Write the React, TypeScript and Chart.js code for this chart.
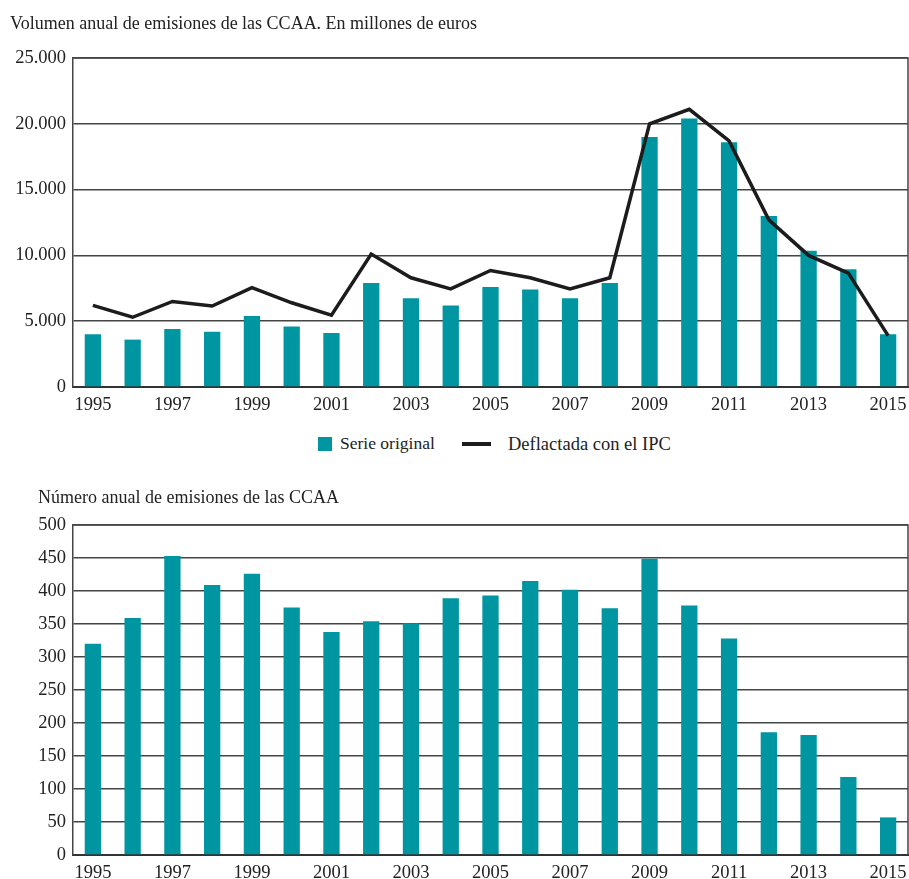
import React, { useEffect, useRef } from "react";
import { Chart, registerables } from "chart.js";

Chart.register(...registerables);

const years = [
  "1995", "1996", "1997", "1998", "1999", "2000", "2001", "2002", "2003", "2004",
  "2005", "2006", "2007", "2008", "2009", "2010", "2011", "2012", "2013", "2014", "2015",
];

// Volumen anual (millones de euros)
const serieOriginal = [
  4000, 3600, 4400, 4200, 5400, 4600, 4100, 7900, 6750, 6200,
  7600, 7400, 6750, 7900, 19000, 20400, 18600, 13000, 10350, 8950, 4000,
];
const deflactadaIPC = [
  6200, 5300, 6500, 6150, 7550, 6400, 5450, 10100, 8300, 7450,
  8850, 8300, 7450, 8300, 20000, 21100, 18700, 12700, 10000, 8650, 3900,
];

// Número anual de emisiones
const numeroEmisiones = [
  320, 359, 453, 409, 426, 375, 338, 354, 351, 389,
  393, 415, 402, 374, 449, 378, 328, 186, 182, 118, 57,
];

const topTitle = "Volumen anual de emisiones de las CCAA. En millones de euros";
const bottomTitle = "Número anual de emisiones de las CCAA";
const legendBar = "Serie original";
const legendLine = "Deflactada con el IPC";

const TEAL = "#0096A1";
const FONT = "'Liberation Serif', 'DejaVu Serif', serif";
const GRID = "#454545";

const fmt = (v: number) => {
  const s = Math.round(v).toString();
  return s.replace(/\B(?=(\d{3})+(?!\d))/g, ".");
};

const borderPlugin = {
  id: "plotBorder",
  afterDatasetsDraw(chart: any) {
    const { ctx, chartArea } = chart;
    ctx.save();
    ctx.strokeStyle = GRID;
    ctx.lineWidth = 1.5;
    ctx.beginPath();
    ctx.moveTo(chartArea.left, chartArea.top);
    ctx.lineTo(chartArea.right, chartArea.top);
    ctx.lineTo(chartArea.right, chartArea.bottom);
    ctx.stroke();
    ctx.restore();
  },
};

function makeScales(max: number, step: number, yWidth: number, xHeight: number, isMoney: boolean) {
  return {
    x: {
      grid: { display: false, drawTicks: false },
      border: { display: true, color: "#333", width: 2 },
      ticks: {
        autoSkip: false,
        maxRotation: 0,
        minRotation: 0,
        padding: 7,
        color: "#222",
        font: { family: FONT, size: 18.5 },
        callback: (_v: any, i: number) => (i % 2 === 0 ? years[i] : ""),
      },
      afterFit: (s: any) => {
        s.height = xHeight;
        s.paddingLeft = 0;
        s.paddingRight = 0;
      },
    },
    y: {
      min: 0,
      max,
      grid: { color: GRID, lineWidth: 1.5, drawTicks: false },
      border: { display: true, color: GRID, width: 1.5 },
      ticks: {
        stepSize: step,
        padding: 7,
        color: "#222",
        font: { family: FONT, size: 18.5 },
        callback: (v: any) => (isMoney ? fmt(v) : String(v)),
      },
      afterFit: (s: any) => {
        s.width = yWidth;
      },
    },
  };
}

export default function App() {
  const topRef = useRef<HTMLCanvasElement>(null);
  const botRef = useRef<HTMLCanvasElement>(null);

  useEffect(() => {
    const c1 = new Chart(topRef.current!, {
      type: "bar",
      data: {
        labels: years,
        datasets: [
          {
            type: "line",
            label: legendLine,
            data: deflactadaIPC,
            borderColor: "#1c1c1c",
            borderWidth: 3.5,
            pointRadius: 0,
            tension: 0,
            order: 0,
          } as any,
          {
            type: "bar",
            label: legendBar,
            data: serieOriginal,
            backgroundColor: TEAL,
            barPercentage: 0.41,
            categoryPercentage: 1,
            order: 1,
          },
        ],
      },
      options: {
        animation: false,
        responsive: false,
        layout: { padding: { top: 58, right: 1, left: 0, bottom: 0 } },
        plugins: { legend: { display: false }, tooltip: { enabled: false }, title: { display: false } },
        scales: makeScales(25000, 5000, 73, 30, true) as any,
      },
      plugins: [borderPlugin],
    });

    const c2 = new Chart(botRef.current!, {
      type: "bar",
      data: {
        labels: years,
        datasets: [
          {
            label: bottomTitle,
            data: numeroEmisiones,
            backgroundColor: TEAL,
            barPercentage: 0.41,
            categoryPercentage: 1,
          },
        ],
      },
      options: {
        animation: false,
        responsive: false,
        layout: { padding: { top: 65, right: 1, left: 0, bottom: 0 } },
        plugins: { legend: { display: false }, tooltip: { enabled: false }, title: { display: false } },
        scales: makeScales(500, 50, 73, 24, false) as any,
      },
      plugins: [borderPlugin],
    });

    return () => {
      c1.destroy();
      c2.destroy();
    };
  }, []);

  const textStyle: React.CSSProperties = {
    position: "absolute",
    fontFamily: FONT,
    color: "#222",
    whiteSpace: "nowrap",
    lineHeight: 1,
  };

  return (
    <div style={{ position: "absolute", left: 0, top: 0, width: 909, height: 879, overflow: "hidden", background: "#fff" }}>
      <canvas ref={topRef} width={909} height={417} style={{ position: "absolute", left: 0, top: 0 }} />
      <canvas ref={botRef} width={909} height={419} style={{ position: "absolute", left: 0, top: 460 }} />
      <div style={{ ...textStyle, left: 10, top: 14, fontSize: 18 }}>{topTitle}</div>
      <div style={{ ...textStyle, left: 38, top: 488, fontSize: 18 }}>{bottomTitle}</div>
      <div style={{ ...textStyle, left: 318, top: 437, width: 14, height: 14, background: TEAL }} />
      <div style={{ ...textStyle, left: 340, top: 435, fontSize: 17.5 }}>{legendBar}</div>
      <div style={{ ...textStyle, left: 462, top: 442, width: 29, height: 3.5, background: "#1c1c1c" }} />
      <div style={{ ...textStyle, left: 508, top: 435, fontSize: 18.5 }}>{legendLine}</div>
    </div>
  );
}
